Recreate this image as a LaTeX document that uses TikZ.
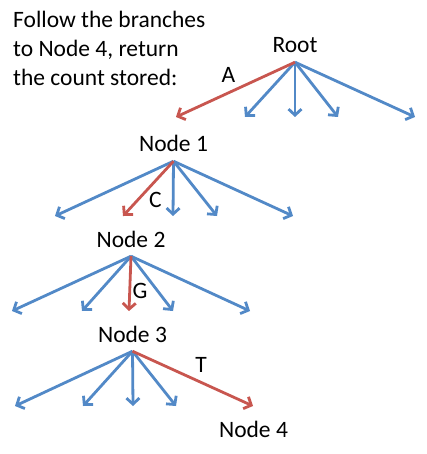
\documentclass[tikz,border=0pt]{standalone}
\usepackage{fontspec}
\setmainfont{Carlito}
\usetikzlibrary{arrows.meta}
\definecolor{branchblue}{HTML}{5289C7}
\definecolor{hitred}{HTML}{C8564F}

\begin{document}
\begin{tikzpicture}[
    x=1pt, y=-1pt,
    trienode/.style={font=\fontsize{23.5}{29}\selectfont, anchor=base,
                     inner xsep=0pt, inner ysep=9pt, text depth=0pt},
    letter/.style={font=\fontsize{23.5}{29}\selectfont, anchor=base, inner sep=0pt},
    note/.style={font=\fontsize{23.5}{29}\selectfont, align=left, anchor=base west, inner sep=0pt},
    branch/.style={draw=branchblue, line width=2.8pt,
                   -{Straight Barb[length=6pt, width=13pt]}},
    hit/.style={branch, draw=hitred}]
\useasboundingbox (0,0) rectangle (426,454);

\node[note] (task) at (13,86) {Follow the branches\\to Node 4, return\\the count stored:};

\node[trienode] (root) at (295,53) {Root};
\node[trienode] (n1) at (173.5,152) {Node 1};
\node[trienode] (n2) at (131,247) {Node 2};
\node[trienode] (n3) at (132.5,342) {Node 3};
\node[trienode] (n4) at (253.5,437) {Node 4};

% branch ends
\foreach \x [count=\i] in {176,245,295,338,415} \coordinate (r\i) at (\x,117);
\foreach \x [count=\i] in {55,123,173,217,293} \coordinate (a\i) at (\x,216);
\foreach \x [count=\i] in {12,82,129,173,250} \coordinate (b\i) at (\x,311);
\foreach \x [count=\i] in {15,83,133,176,253} \coordinate (c\i) at (\x,406);

\foreach \i in {2,...,5} \draw[branch] (root.south) -- (r\i);
\foreach \i in {1,3,4,5} \draw[branch] (n1.south) -- (a\i);
\foreach \i in {1,2,4,5} \draw[branch] (n2.south) -- (b\i);
\foreach \i in {1,...,4} \draw[branch] (n3.south) -- (c\i);

\draw[hit] (root.south) -- (r1);
\draw[hit] (n1.south) -- (a2);
\draw[hit] (n2.south) -- (b3);
\draw[hit] (n3.south) -- (c5);

\node[letter] (la) at (228.5,83) {A};
\node[letter] (lc) at (155.5,207) {C};
\node[letter] (lg) at (140,298) {G};
\node[letter] (lt) at (201,372) {T};
\end{tikzpicture}
\end{document}
